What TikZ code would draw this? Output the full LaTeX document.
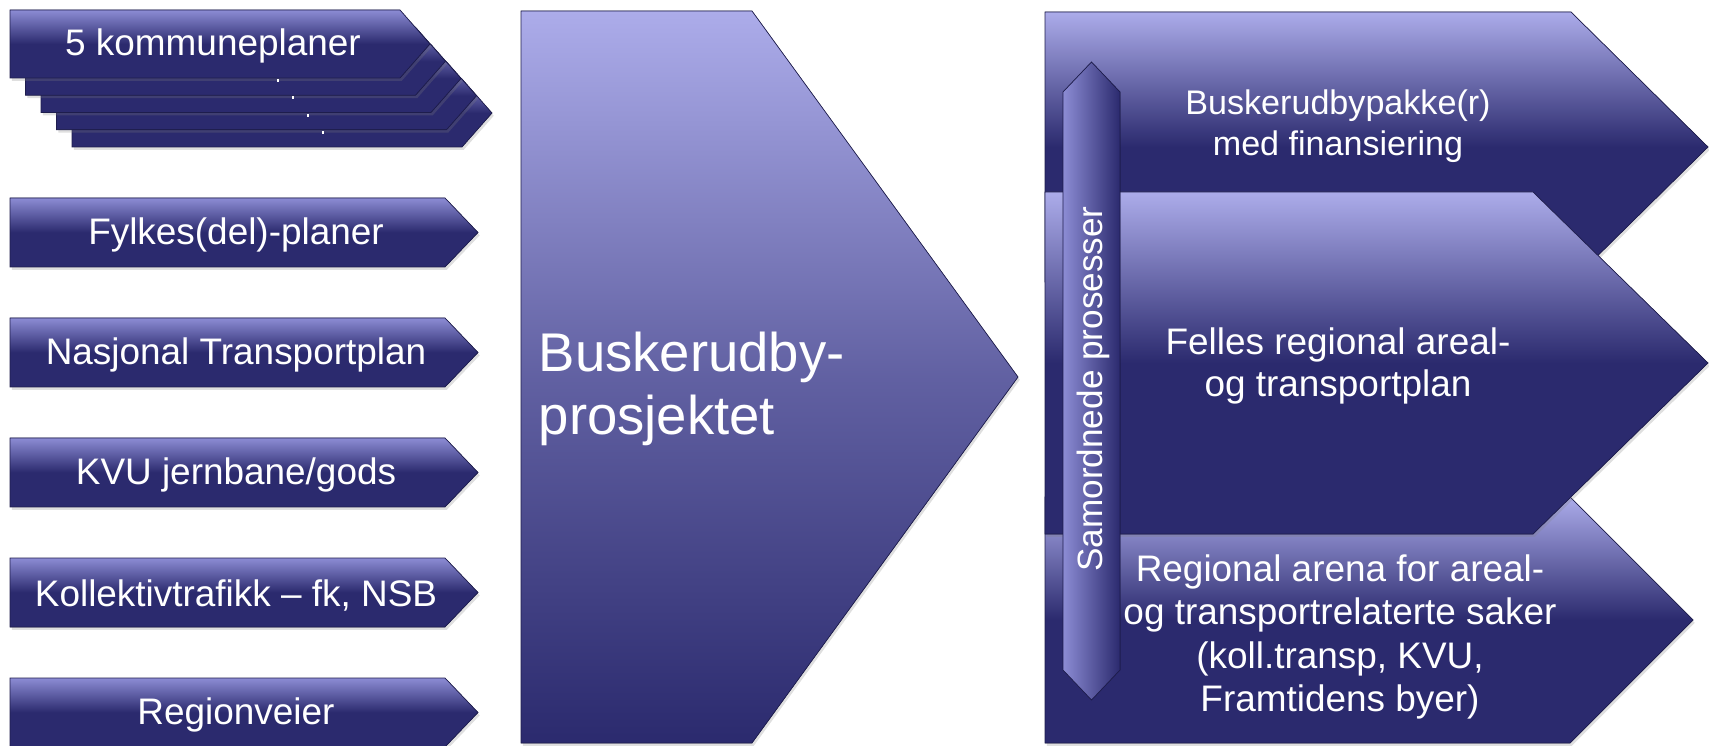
\documentclass[tikz,border=0pt]{standalone}
\usepackage{fontspec}
\setmainfont{Liberation Sans}
\usetikzlibrary{shadows}
\definecolor{navy}{HTML}{2B2A6E}
\definecolor{lav}{HTML}{ACACEA}
\definecolor{lavmid}{HTML}{8C8CD4}
\tikzset{
  smallarrow/.style={top color=lavmid, bottom color=navy, middle color=navy, draw=navy!70!black, line width=0.2pt,
    drop shadow={opacity=0.25, shadow xshift=0.5pt, shadow yshift=-0.8pt}},
  midarrow/.style={top color=lav, bottom color=navy, middle color=lav!42!navy, draw=navy!70!black, line width=0.2pt,
    drop shadow={opacity=0.25, shadow xshift=0.5pt, shadow yshift=-0.8pt}},
  bigarrow/.style={top color=lav, bottom color=navy, middle color=navy, draw=navy!70!black, line width=0.2pt,
    drop shadow={opacity=0.25, shadow xshift=0.5pt, shadow yshift=-0.8pt}},
  vertarrow/.style={left color=lavmid, right color=navy, draw=navy!70!black, line width=0.2pt},
  lbl/.style={text=white, font=\fontsize{10.5}{12}\selectfont, align=center, inner sep=0pt},
  biglbl/.style={text=white, font=\fontsize{15.5}{18}\selectfont, align=left, inner sep=0pt}
}
\begin{document}
\begin{tikzpicture}[x=0.01cm, y=-0.01cm]
\useasboundingbox (0,0) rectangle (1709,746);

% stacked kommuneplaner
\foreach \k in {4,3,2,1,0}
  \fill[smallarrow] ({10+15.5*\k},{10+17.25*\k}) -- ++(390,0) -- ++(30,34) -- ++(-30,34) -- ++(-390,0) -- cycle;
\foreach \k in {1,...,4}
  \fill[white] ({262+15*\k},{62+17.25*\k}) rectangle ++(2,3);
\node (kommune) [lbl] at (213,46) {5 kommuneplaner};

% input plans
\fill[smallarrow] (10,198) -- (445,198) -- (478,232.5) -- (445,267) -- (10,267) -- cycle;
\fill[smallarrow] (10,318) -- (445,318) -- (478,352.5) -- (445,387) -- (10,387) -- cycle;
\fill[smallarrow] (10,438) -- (445,438) -- (478,472.5) -- (445,507) -- (10,507) -- cycle;
\fill[smallarrow] (10,558) -- (445,558) -- (478,592.5) -- (445,627) -- (10,627) -- cycle;
\fill[smallarrow] (10,678) -- (445,678) -- (478,712.5) -- (445,747) -- (10,747) -- cycle;
\node (fylke) [lbl] at (236,235) {Fylkes(del)-planer};
\node (ntp) [lbl] at (236,355) {Nasjonal Transportplan};
\node (kvu) [lbl] at (236,475) {KVU jernbane/gods};
\node (koll) [lbl] at (236,595) {Kollektivtrafikk – fk, NSB};
\node (vei) [lbl] at (236,715) {Regionveier};

% project
\fill[midarrow] (521,11) -- (752,11) -- (1018,377) -- (752,743) -- (521,743) -- cycle;
\node (prosjekt) [biglbl, anchor=west] at (538,389) {Buskerudby-\\prosjektet};

% results
\fill[bigarrow] (1045,12) -- (1571,12) -- (1708,147) -- (1571,282) -- (1045,282) -- cycle;
\fill[bigarrow] (1045,497) -- (1570,497) -- (1693,620) -- (1570,743) -- (1045,743) -- cycle;
\fill[bigarrow] (1045,192) -- (1533,192) -- (1708,363) -- (1533,534) -- (1045,534) -- cycle;
\node (pakke) [lbl, font=\fontsize{9.7}{11.6}\selectfont] at (1338,126) {Buskerudbypakke(r)\\med finansiering};
\node (plan) [lbl] at (1338,366) {Felles regional areal-\\og transportplan};
\node (arena) [lbl, font=\fontsize{10.5}{12.4}\selectfont] at (1340,637) {Regional arena for areal-\\og transportrelaterte saker\\(koll.transp, KVU,\\Framtidens byer)};

% samordnede prosesser
\fill[vertarrow] (1063,92) -- (1091.5,62) -- (1120,92) -- (1120,670) -- (1091.5,700) -- (1063,670) -- cycle;
\node (samordn) [lbl, rotate=90, font=\fontsize{10}{12}\selectfont] at (1093,389) {Samordnede prosesser};

\end{tikzpicture}
\end{document}
